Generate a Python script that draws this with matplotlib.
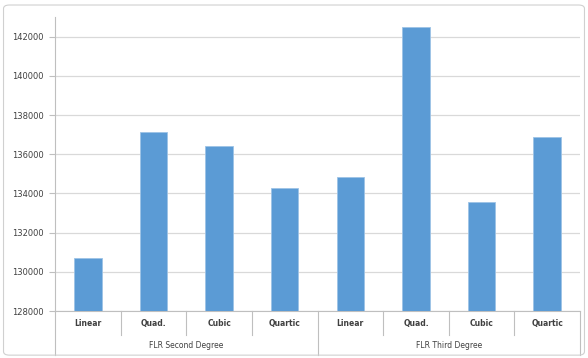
import matplotlib.pyplot as plt
from matplotlib.patches import FancyBboxPatch
import matplotlib.transforms as mtransforms

methods = ["Linear", "Quad.", "Cubic", "Quartic", "Linear", "Quad.", "Cubic", "Quartic"]
groups = ["FLR Second Degree", "FLR Third Degree"]
values = [130680, 137140, 136410, 134290, 134850, 142470, 133580, 136880]

bar_color = "#5B9BD5"
grid_color = "#D9D9D9"
axis_color = "#BFBFBF"
text_color = "#404040"

fig = plt.figure(figsize=(5.88, 3.58), dpi=100)
ax = fig.add_axes([55 / 588, 47 / 358, 525 / 588, 294 / 358])

x = list(range(len(methods)))
ax.bar(x, values, width=0.42, color=bar_color, edgecolor="#9DC3E6", linewidth=0.6, zorder=3)

ax.set_ylim(128000, 143000)
ax.set_xlim(-0.5, len(methods) - 0.5)
ax.set_yticks(range(128000, 143001, 2000))
ax.yaxis.grid(True, color=grid_color, linewidth=0.9, zorder=0)
ax.tick_params(axis="y", length=4, width=0.8, color=axis_color, labelsize=6,
               labelcolor=text_color, pad=4)

ax.set_xticks(x)
ax.set_xticklabels(methods, fontsize=5.5, fontweight="bold", color=text_color)
ax.tick_params(axis="x", length=0, pad=6)

for s in ["top", "right"]:
    ax.spines[s].set_visible(False)
ax.spines["left"].set_color(axis_color)
ax.spines["bottom"].set_color(axis_color)
ax.spines["left"].set_bounds(128000, 143000)

# multi-level category dividers
trans = mtransforms.blended_transform_factory(ax.transData, ax.transAxes)
for i in range(len(methods) + 1):
    xd = i - 0.5
    if i in (0, 4, 8):
        y0 = -0.15
    else:
        y0 = -0.08
    ax.plot([xd, xd], [0, y0], transform=trans, color=axis_color, linewidth=0.8, clip_on=False)

for gi, g in enumerate(groups):
    ax.text(gi * 4 + 1.5, -0.116, g, transform=trans, ha="center", va="center",
            fontsize=5.5, color=text_color)

# chart border
fig.patches.append(FancyBboxPatch((0.006, 0.008), 0.988, 0.978, boxstyle="round,pad=0,rounding_size=0.01",
                                  transform=fig.transFigure, fill=False, edgecolor="#D0D0D0", linewidth=0.8))

fig.savefig("out.png", dpi=100)
